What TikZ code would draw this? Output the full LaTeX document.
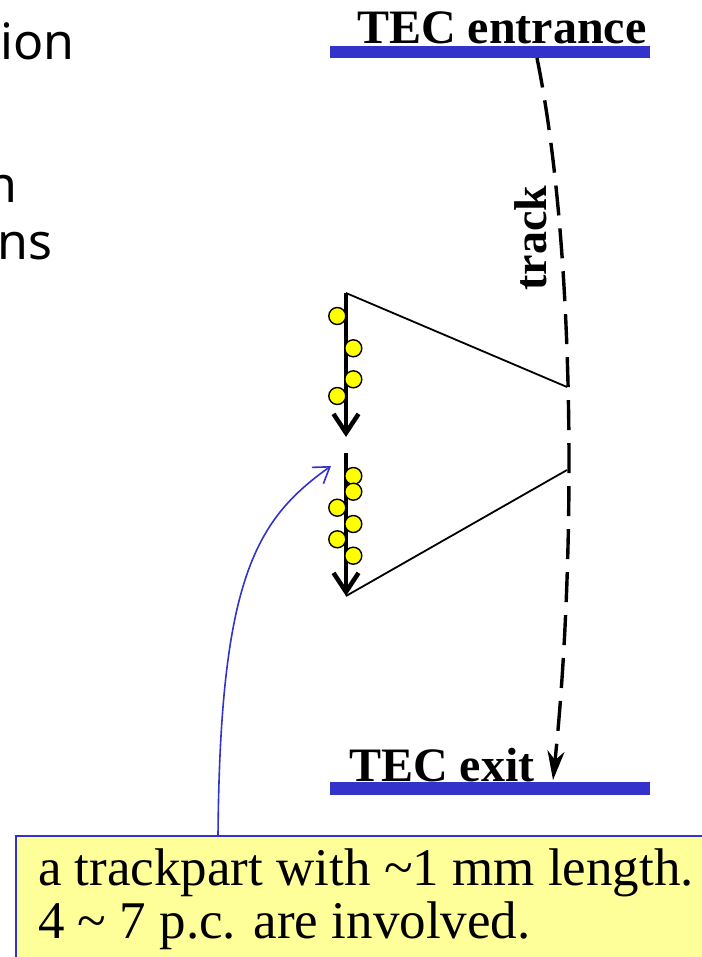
\documentclass[tikz,border=0pt]{standalone}
\usepackage{fontspec}
\setmainfont{Liberation Serif}
\newfontfamily\sansf{Noto Sans}
\usetikzlibrary{arrows.meta}
\definecolor{barblue}{RGB}{51,51,204}
\definecolor{noteyellow}{RGB}{255,255,153}
\definecolor{dotyellow}{RGB}{255,255,0}
\begin{document}
\begin{tikzpicture}[x=1pt,y=-1pt,
  bar/.style={barblue, line width=12.5pt, line cap=butt},
  lbl/.style={font=\fontsize{48}{52}\selectfont\bfseries, inner sep=0pt},
  sidetext/.style={font=\sansf\fontsize{50}{57}\selectfont, inner sep=0pt},
  notetext/.style={font=\fontsize{53}{53}\selectfont, inner sep=0pt, anchor=base west},
  dot/.style={circle, draw=black, fill=dotyellow, line width=1.4pt, minimum size=17pt, inner sep=0pt},
  trackline/.style={line width=3.4pt, dash pattern=on 30pt off 13pt, -{Stealth[length=29pt,width=17pt,inset=9pt]}},
  thinline/.style={line width=1.8pt},
  bigarrow/.style={line width=4.5pt, -{Straight Barb[length=19pt,width=25pt,line width=4.5pt]}},
  pointer/.style={barblue, line width=1.6pt, -{Straight Barb[length=15pt,width=20pt,line width=1.6pt]}},
  notebox/.style={draw=barblue, fill=noteyellow, line width=1.5pt}
]
\useasboundingbox (0,0) rectangle (701,957);

% left text fragments
\node[sidetext, anchor=base west] (s1) at (0,60) {ion};
\node[sidetext, anchor=base east] (s2) at (18,203) {n};
\node[sidetext, anchor=base east] (s3) at (53,260) {ns};

% bars
\coordinate (en1) at (330,52);
\coordinate (en2) at (650,52);
\coordinate (ex1) at (330,788.5);
\coordinate (ex2) at (650,788.5);
\draw[bar] (en1) -- (en2);
\draw[bar] (ex1) -- (ex2);
\node[lbl, anchor=base west] (entr) at (357,44) {TEC entrance};
\node[lbl, anchor=base west] (exit) at (349,781) {TEC exit};

% track
\coordinate (trs) at (537,58);
\coordinate (tre) at (553,780);
\draw[trackline] (trs) .. controls (576,250) and (576,560) .. (tre);
\node[font=\fontsize{46}{50}\selectfont\bfseries, inner sep=0pt, rotate=90] (trk) at (531,238) {track};

% triangles
\coordinate (a1) at (346,293);
\coordinate (a2) at (346,437);
\coordinate (b1) at (346,453);
\coordinate (b2) at (346,596);
\coordinate (t1) at (567,387);
\coordinate (t2) at (567,470);
\draw[thinline] (a1) -- (t1);
\draw[thinline] (t2) -- (b2);
\draw[bigarrow] (a1) -- (a2);
\draw[bigarrow] (b1) -- (b2);

% dots
\node[dot] (d1) at (337.3,316) {};
\node[dot] (d2) at (353.3,348.3) {};
\node[dot] (d3) at (353.3,379.3) {};
\node[dot] (d4) at (337.3,396) {};
\node[dot] (d5) at (353.3,476) {};
\node[dot] (d6) at (353.3,491.7) {};
\node[dot] (d7) at (337.3,507.7) {};
\node[dot] (d8) at (353.3,524) {};
\node[dot] (d9) at (337.3,539.3) {};
\node[dot] (d10) at (353.3,555.7) {};

% note box
\draw[notebox] (16,836) rectangle (725,980);
\coordinate (notetop) at (218,836);
\coordinate (ptr) at (331,466);
\node[notetext] (n1) at (38,885) {a trackpart with \textasciitilde1 mm length.};
\node[notetext] (n2) at (38,938) {4 \textasciitilde\ 7 p.c. are involved.};
\draw[pointer] (notetop) .. controls (220,580) and (255,520) .. (ptr);
\end{tikzpicture}
\end{document}
